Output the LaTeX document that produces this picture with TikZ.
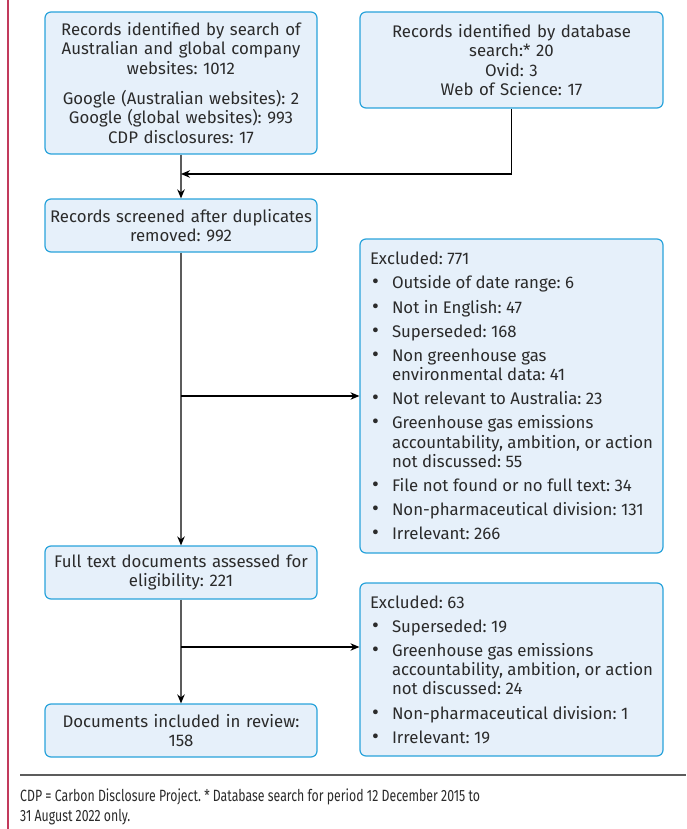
\documentclass[tikz,border=0pt]{standalone}
\usepackage{fontspec}
\setmainfont{Fira Sans}
\usetikzlibrary{arrows.meta}
\definecolor{boxfill}{HTML}{E6F0FA}
\definecolor{boxline}{HTML}{29A3DB}
\definecolor{redline}{HTML}{C23A5C}
\definecolor{txt}{HTML}{2B2B2B}
\definecolor{mainline}{HTML}{5C5C5C}
\frenchspacing
\newcommand{\bitem}[1]{\par\vspace{4.8pt}\hangindent=22pt\hangafter=1\noindent\makebox[22pt][l]{\hspace{2pt}\scalebox{1.25}{\textbullet}}#1}
\newcommand{\exlist}[1]{\parbox{283pt}{\raggedright\setlength{\parskip}{0pt}\setlength{\parindent}{0pt}#1}}
\begin{document}
\begin{tikzpicture}[x=1pt,y=-1pt,
  box/.style={draw=boxline, fill=boxfill, line width=1.2pt, rounded corners=6pt,
    font=\fontsize{16.8}{19.3}\selectfont, text=txt, inner sep=0pt},
  lbox/.style={box, minimum width=272pt, align=center, text width=266pt},
  rbox/.style={box, minimum width=303pt},
  vline/.style={draw=mainline, line width=1.8pt},
  arr/.style={-{Stealth[length=9pt,width=7.5pt,color=black]}},
  harr/.style={draw=black, line width=1.1pt, -{Stealth[length=9pt,width=7.5pt]}},
  foot/.style={anchor=west, inner sep=0pt, text=txt, font=\fontsize{16.3}{19}\selectfont},
]
\useasboundingbox (0,0) rectangle (686,829);
\draw[redline, line width=1.3pt] (8,0) -- (8,829);

\node[lbox, minimum height=142pt] (b1) at (181,83)
  {Records identified by search of\\Australian and global company\\websites: 1012\\[11pt]
   Google (Australian websites): 2\\Google (global websites): 993\\CDP disclosures: 17};
\node[box, minimum width=303pt, minimum height=96pt, align=center, text width=297pt] (b2) at (511.5,60)
  {Records identified by database\\search:* 20\\Ovid: 3\\Web of Science: 17};
\node[lbox, minimum height=53pt] (b3) at (181,225.5)
  {Records screened after duplicates\\removed: 992};
\node[lbox, minimum height=53pt] (b4) at (181,572.5)
  {Full text documents assessed for\\eligibility: 221};
\node[lbox, minimum height=53pt] (b5) at (181,730.5)
  {Documents included in review:\\158};

\node[rbox, minimum height=314pt] (e1) at (511.5,396)
  {\exlist{Excluded: 771
   \bitem{Outside of date range: 6}
   \bitem{Not in English: 47}
   \bitem{Superseded: 168}
   \bitem{Non greenhouse gas\newline environmental data: 41}
   \bitem{Not relevant to Australia: 23}
   \bitem{Greenhouse gas emissions\newline accountability, ambition, or action\newline not discussed: 55}
   \bitem{File not found or no full text: 34}
   \bitem{Non-pharmaceutical division: 131}
   \bitem{Irrelevant: 266}}};
\node[rbox, minimum height=173pt] (e2) at (511.5,669.5)
  {\exlist{Excluded: 63
   \bitem{Superseded: 19}
   \bitem{Greenhouse gas emissions\newline accountability, ambition, or action\newline not discussed: 24}
   \bitem{Non-pharmaceutical division: 1}
   \bitem{Irrelevant: 19}}};

\coordinate (j1) at (181,174);
\coordinate (j2) at (181,396);
\coordinate (j3) at (181,647);
\coordinate (t3) at (e2.west |- j3);

\draw[vline, arr] (b1.south) -- (b3.north);
\draw[vline, arr] (b3.south) -- (b4.north);
\draw[vline, arr] (b4.south) -- (b5.north);
\draw[harr] (b2.south) |- (j1);
\draw[harr] (j2) -- (e1.west);
\draw[harr] (j3) -- (t3);

\coordinate (s1) at (20,775);
\coordinate (s2) at (686,775);
\draw[draw=mainline, line width=1.8pt] (s1) -- (s2);
\node[foot] (f1) at (20,797)
  {\scalebox{0.755}[1]{CDP = Carbon Disclosure Project. * Database search for period 12 December 2015 to}};
\node[foot] (f2) at (20,817)
  {\scalebox{0.755}[1]{31 August 2022 only.}};
\end{tikzpicture}
\end{document}
